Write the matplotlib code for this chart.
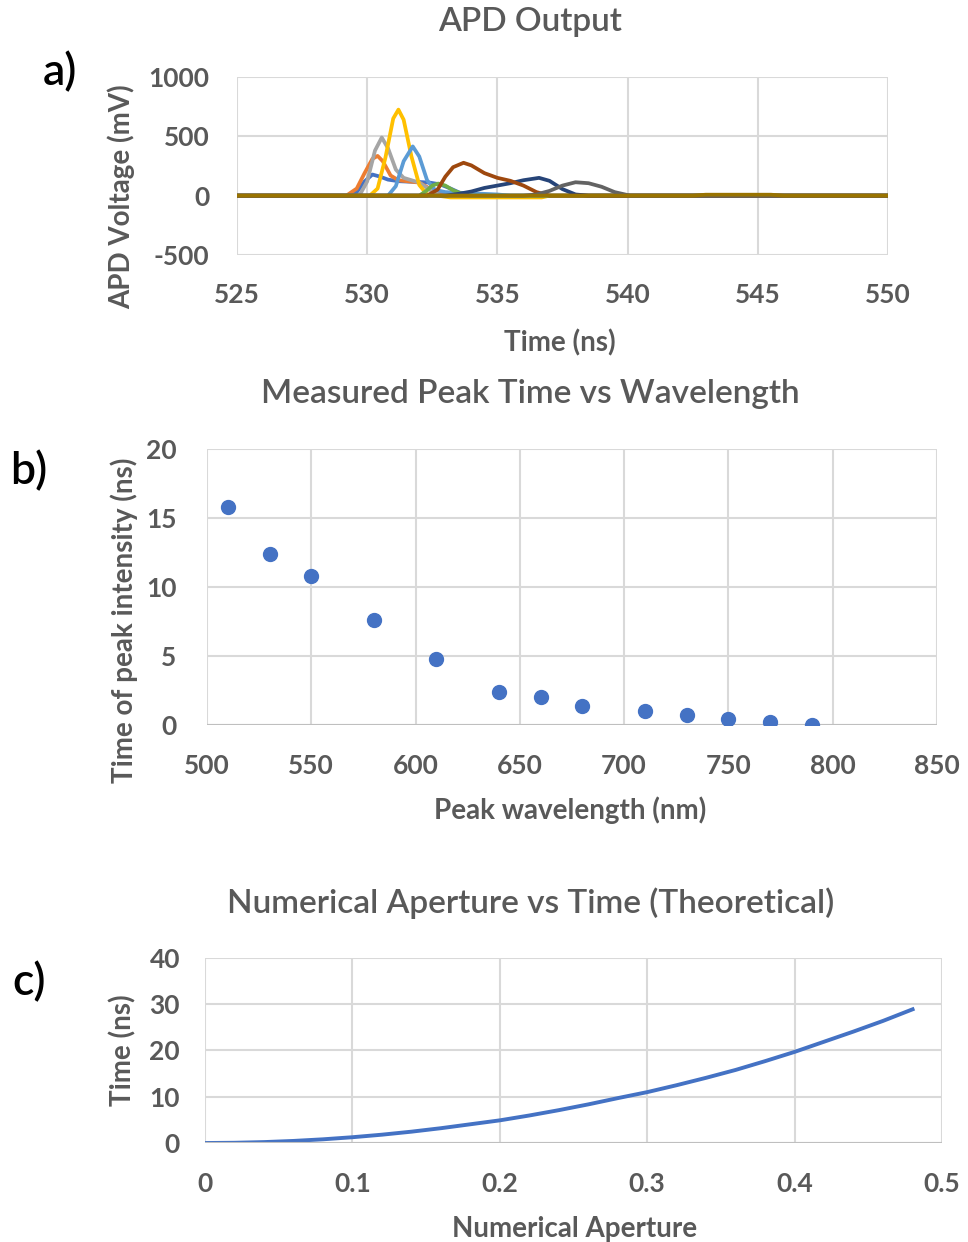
import numpy as np
import matplotlib
matplotlib.use("Agg")
import matplotlib.pyplot as plt

plt.rcParams['font.family'] = ['Lato', 'DejaVu Sans']
plt.rcParams['axes.unicode_minus'] = False

# ---- panel a: APD traces ----
apd_colors = ["#4472C4", "#ED7D31", "#A5A5A5", "#FFC000", "#5B9BD5",
              "#70AD47", "#264478", "#9E480E", "#636363", "#997300"]
apd_t = [
    [525, 529.3, 529.6, 529.9, 530.2, 530.5, 530.8, 531.2, 531.6, 532.0, 532.4, 532.8, 533.2, 533.6, 534.0, 550],
    [525, 529.2, 529.6, 529.9, 530.2, 530.4, 530.6, 530.9, 531.2, 531.6, 532.0, 532.4, 532.8, 533.2, 550],
    [525, 529.7, 530.0, 530.3, 530.56, 530.8, 531.1, 531.4, 531.7, 532.0, 532.4, 532.8, 550],
    [525, 530.1, 530.4, 530.7, 531.0, 531.2, 531.4, 531.7, 532.0, 532.3, 532.7, 533.2, 534, 535, 536, 536.7, 537, 550],
    [525, 530.8, 531.1, 531.4, 531.75, 532.0, 532.3, 532.6, 533.0, 533.5, 534.0, 534.5, 535.0, 535.5, 550],
    [525, 532.0, 532.3, 532.5, 532.73, 533.0, 533.3, 533.7, 534, 550],
    [525, 533.0, 533.5, 534.0, 534.5, 535.0, 535.5, 536.0, 536.6, 537.0, 537.5, 538.0, 538.5, 550],
    [525, 532.3, 532.7, 533.0, 533.3, 533.7, 534.0, 534.5, 535.0, 535.5, 536.0, 536.5, 537.0, 550],
    [525, 536.0, 536.5, 537.0, 537.5, 538.0, 538.5, 539.0, 539.5, 540.1, 550],
    [525, 542.5, 543, 545.5, 546, 550],
]
apd_v = [
    [0, 0, 30, 120, 178, 160, 135, 122, 118, 115, 110, 95, 60, 20, 0, 0],
    [0, 0, 60, 190, 310, 335, 290, 170, 130, 120, 110, 60, 15, 0, 0],
    [0, 0, 120, 380, 490, 400, 220, 150, 130, 110, 50, 0, 0],
    [0, 0, 60, 320, 650, 725, 640, 330, 90, 10, 0, -15, -15, -15, -15, -15, 0, 0],
    [0, 0, 80, 290, 415, 330, 130, 50, 30, 25, 20, 15, 10, 0, 0],
    [0, 0, 45, 85, 102, 85, 45, 10, 0, 0],
    [0, 0, 15, 35, 65, 85, 105, 130, 150, 125, 55, 10, 0, 0],
    [0, 0, 50, 160, 240, 277, 255, 190, 150, 125, 85, 30, 0, 0],
    [0, 0, 10, 40, 85, 113, 105, 75, 30, 0, 0],
    [0, 0, 8, 8, 0, 0],
]

# ---- panel b: peak time vs wavelength ----
wavelength = [510, 530, 550, 580, 610, 640, 660, 680, 710, 730, 750, 770, 790]
peak_time = [15.8, 12.4, 10.8, 7.6, 4.8, 2.4, 2.0, 1.4, 1.0, 0.7, 0.4, 0.25, 0.0]

# ---- panel c: NA vs time ----
na = [0, 0.02, 0.04, 0.06, 0.08, 0.1, 0.12, 0.14, 0.16, 0.18, 0.2, 0.22, 0.24,
      0.26, 0.28, 0.3, 0.32, 0.34, 0.36, 0.38, 0.4, 0.42, 0.44, 0.46, 0.48]
na_time = [0, 0.05, 0.2, 0.45, 0.8, 1.25, 1.8, 2.45, 3.2, 4.05, 4.9, 5.95, 7.1,
           8.35, 9.7, 11.0, 12.5, 14.1, 15.8, 17.7, 19.7, 21.9, 24.1, 26.4, 28.9]

txt = "#595959"
grid = "#D9D9D9"

fig = plt.figure(figsize=(9.68, 12.42), dpi=100)


def style(ax, xpad, ypad):
    for s in ax.spines.values():
        s.set_visible(False)
    ax.grid(True, color=grid, linewidth=1.5)
    ax.set_axisbelow(True)
    ax.tick_params(length=0, colors=txt, labelsize=19)
    ax.tick_params(axis="x", pad=xpad)
    ax.tick_params(axis="y", pad=ypad)
    for lab in ax.get_xticklabels() + ax.get_yticklabels():
        lab.set_fontweight("bold")


def labels(ax, xl, yl, xpos, ypos):
    ax.set_xlabel(xl, color=txt, fontsize=20, fontweight="bold")
    ax.set_ylabel(yl, color=txt, fontsize=20, fontweight="bold")
    ax.xaxis.set_label_coords(*xpos)
    ax.yaxis.set_label_coords(*ypos)


# a)
ax1 = fig.add_axes([0.2448, 0.7947, 0.6726, 0.1433])
for t, v, c in zip(apd_t, apd_v, apd_colors):
    ax1.plot(t, v, color=c, lw=2.7, solid_joinstyle="round")
ax1.set_xlim(525, 550)
ax1.set_ylim(-500, 1000)
ax1.set_xticks(np.arange(525, 551, 5))
ax1.set_yticks([-500, 0, 500, 1000])
style(ax1, 20, 20)
labels(ax1, "Time (ns)", "APD Voltage (mV)", (0.496, -0.415), (-0.157, 0.33))
fig.text(0.548, 0.982, "APD Output", ha="center", va="center", color=txt,
         fontsize=24, fontweight="semibold")
fig.text(0.062, 0.942, "a)", ha="center", va="center", color="black",
         fontsize=32, fontweight="semibold")

# b)
ax2 = fig.add_axes([0.2138, 0.4163, 0.7541, 0.2222])
ax2.scatter(wavelength, peak_time, s=100, color="#4472C4", zorder=3)
ax2.set_xlim(500, 850)
ax2.set_ylim(0, 20)
ax2.set_xticks(np.arange(500, 851, 50))
ax2.set_yticks(np.arange(0, 21, 5))
style(ax2, 21, 22)
ax2.axhline(0, color="#BFBFBF", lw=1.5, zorder=2)
labels(ax2, "Peak wavelength (nm)", "Time of peak intensity (ns)", (0.497, -0.258), (-0.095, 0.38))
fig.text(0.548, 0.683, "Measured Peak Time vs Wavelength", ha="center", va="center",
         color=txt, fontsize=24, fontweight="semibold")
fig.text(0.030, 0.620, "b)", ha="center", va="center", color="black",
         fontsize=32, fontweight="semibold")

# c)
ax3 = fig.add_axes([0.2118, 0.0797, 0.7614, 0.149])
ax3.plot(na, na_time, color="#4472C4", lw=2.8)
ax3.set_xlim(0, 0.5)
ax3.set_ylim(0, 40)
ax3.set_xticks([0, 0.1, 0.2, 0.3, 0.4, 0.5])
ax3.set_xticklabels(["0", "0.1", "0.2", "0.3", "0.4", "0.5"])
ax3.set_yticks(np.arange(0, 41, 10))
style(ax3, 21, 18)
ax3.axhline(0, color="#BFBFBF", lw=1.5, zorder=2)
labels(ax3, "Numerical Aperture", "Time (ns)", (0.502, -0.395), (-0.093, 0.50))
fig.text(0.548, 0.273, "Numerical Aperture vs Time (Theoretical)", ha="center", va="center",
         color=txt, fontsize=24, fontweight="semibold")
fig.text(0.030, 0.209, "c)", ha="center", va="center", color="black",
         fontsize=32, fontweight="semibold")

fig.savefig("out.png", dpi=100)
